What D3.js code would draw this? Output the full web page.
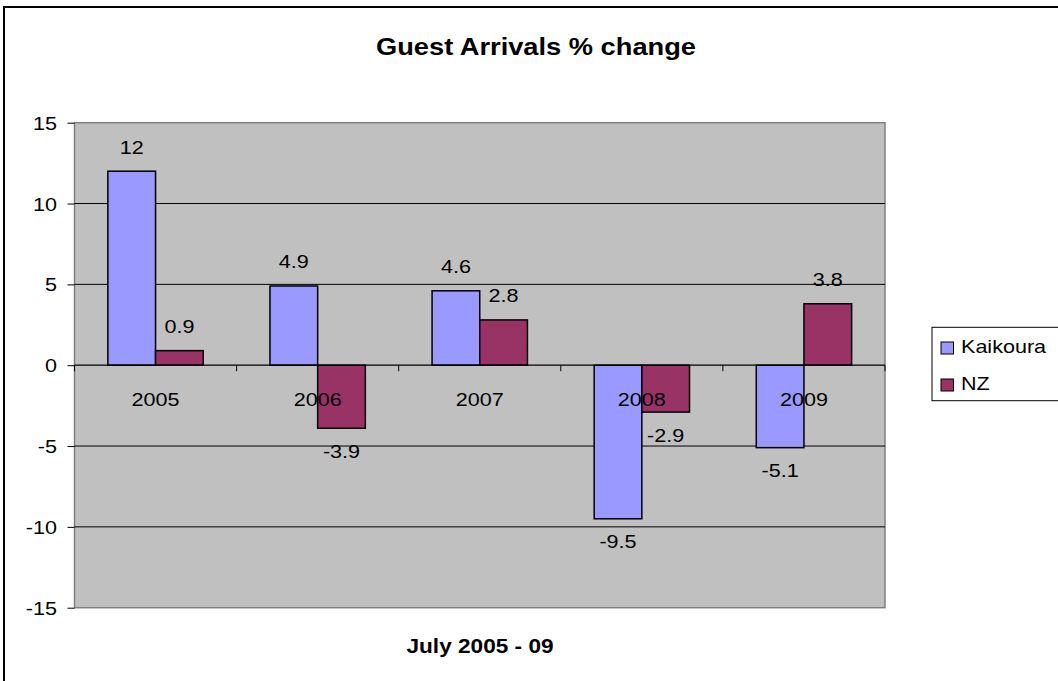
<!DOCTYPE html>
<html><head><meta charset="utf-8">
<script src="https://cdn.jsdelivr.net/npm/d3@7"></script>
<style>body{margin:0;background:#fff;} text{font-family:"Liberation Sans",Arial,sans-serif;fill:#000;}</style>
</head><body>
<svg id="c" width="1058" height="681"></svg>
<script>
const categories = ["2005","2006","2007","2008","2009"];
const seriesNames = ["Kaikoura","NZ"];
const kaikoura = [12, 4.9, 4.6, -9.5, -5.1];
const nz = [0.9, -3.9, 2.8, -2.9, 3.8];
const yTicks = [-15,-10,-5,0,5,10,15];
const colors = ["#9999FF","#993366"];
const seriesValues = [kaikoura, nz];

const SX = 1.16; // horizontal stretch of text as in the reference
const svg = d3.select("#c");
const L = 74.5, R = 885, T = 122.7, B = 607.7;

function txt(g, x, y, s, size, anchor, bold) {
  return g.append("text").attr("transform", `translate(${x},${y}) scale(${SX},1)`)
    .attr("text-anchor", anchor || "middle").attr("font-size", size)
    .attr("font-weight", bold ? "bold" : null).text(s);
}

svg.append("rect").attr("x",4).attr("y",7).attr("width",1100).attr("height",700)
  .attr("fill","#fff").attr("stroke","#000").attr("stroke-width",2);

const x = d3.scaleBand().domain(categories).range([L,R]).paddingInner(0).paddingOuter(0);
const y = d3.scaleLinear().domain([-15,15]).range([B,T]);
const xs = d3.scaleBand().domain(seriesNames).range([0,x.bandwidth()]).paddingInner(0).paddingOuter(0.7);

svg.append("rect").attr("x",L).attr("y",T).attr("width",R-L).attr("height",B-T)
  .attr("fill","#C0C0C0").attr("stroke","#808080").attr("stroke-width",1.5);

// gridlines
svg.append("g").selectAll("line").data(yTicks.filter(d=>d!==-15 && d!==15 && d!==0)).join("line")
  .attr("x1",L).attr("x2",R).attr("y1",d=>y(d)).attr("y2",d=>y(d)).attr("stroke","#000").attr("stroke-width",1);

// y axis
const ya = svg.append("g").attr("transform",`translate(${L},0)`)
  .call(d3.axisLeft(y).tickValues(yTicks).tickSize(7).tickFormat(d=>String(d)));
ya.select(".domain").remove();
ya.selectAll(".tick line").attr("stroke","#000");
ya.selectAll(".tick text").attr("font-size",18.6).attr("fill","#000")
  .attr("font-family","Liberation Sans, Arial, sans-serif")
  .attr("dy",null).attr("y",6.6).attr("x",-17.5/SX).attr("transform",`scale(${SX},1)`).attr("text-anchor","end");

// bars
const data = [];
categories.forEach((c,i)=>seriesNames.forEach((s,j)=>data.push({c,s,v:seriesValues[j][i],j})));
svg.append("g").selectAll("rect").data(data).join("rect")
  .attr("x",d=>x(d.c)+xs(d.s)).attr("width",xs.bandwidth())
  .attr("y",d=>y(Math.max(0,d.v))).attr("height",d=>Math.abs(y(d.v)-y(0)))
  .attr("fill",d=>colors[d.j]).attr("stroke","#000").attr("stroke-width",1.5);

// zero axis line
svg.append("line").attr("x1",L).attr("x2",R).attr("y1",y(0)).attr("y2",y(0)).attr("stroke","#000").attr("stroke-width",1.2);
// x ticks at category boundaries
const bounds = categories.map(c=>x(c)).concat([R]);
svg.append("g").selectAll("line").data(bounds).join("line")
  .attr("x1",d=>d).attr("x2",d=>d).attr("y1",y(0)).attr("y2",y(0)+6).attr("stroke","#000");

// category labels
const cg = svg.append("g");
categories.forEach(c=>txt(cg, x(c)+x.bandwidth()/2, y(0)+41, c, 18.6));

// data labels
const dg = svg.append("g");
data.forEach(d=>txt(dg, x(d.c)+xs(d.s)+xs.bandwidth()/2, d.v>=0 ? y(d.v)-17.7 : y(d.v)+29.5, String(d.v), 18.6));

// titles
txt(svg, 536, 55, "Guest Arrivals % change", 23.5, "middle", true);
txt(svg, 480, 653, "July 2005 - 09", 19.5, "middle", true);

// legend
const lg = svg.append("g");
lg.append("rect").attr("x",932).attr("y",327.3).attr("width",140).attr("height",73.4).attr("fill","#fff").attr("stroke","#000");
seriesNames.forEach((s,i)=>{
  const by = 353 + i*37;
  lg.append("rect").attr("x",941).attr("y",by-11).attr("width",12.5).attr("height",12).attr("fill",colors[i]).attr("stroke","#000");
  txt(lg, 961, by, s, 18.6, "start");
});
</script>
</body></html>
